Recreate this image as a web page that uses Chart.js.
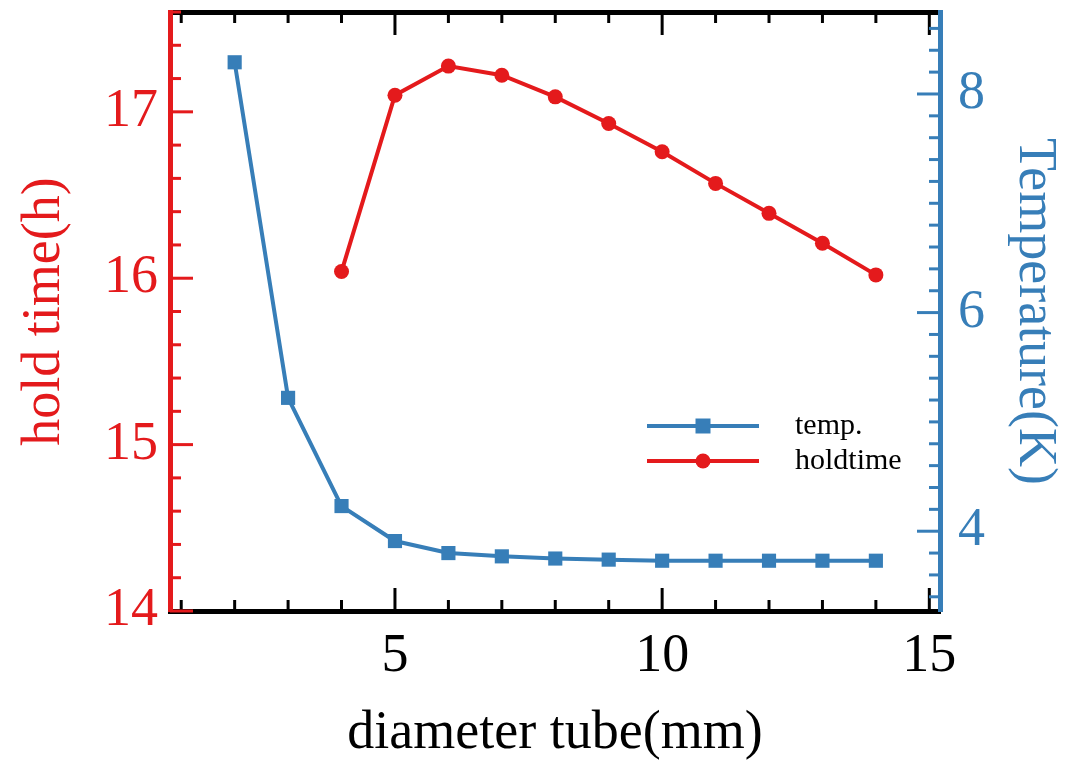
<!DOCTYPE html>
<html>
<head>
<meta charset="utf-8">
<script src="https://cdn.jsdelivr.net/npm/chart.js@4.4.0/dist/chart.umd.min.js"></script>
<style>
  html, body { margin: 0; padding: 0; background: #fff; }
</style>
</head>
<body>
<canvas id="graphic-holdtime" width="1066" height="761"></canvas>
<script>
// values
const diameterTemp = [2, 3, 4, 5, 6, 7, 8, 9, 10, 11, 12, 13, 14];
const tempValues = [8.29, 5.22, 4.23, 3.91, 3.80, 3.77, 3.75, 3.74, 3.73, 3.73, 3.73, 3.73, 3.73];
const diameterHold = [4, 5, 6, 7, 8, 9, 10, 11, 12, 13, 14];
const holdValues = [16.04, 17.10, 17.275, 17.22, 17.09, 16.93, 16.76, 16.57, 16.39, 16.21, 16.02];
const seriesNames = ['temp.', 'holdtime'];
const xTickLabels = [5, 10, 15];
const holdTickLabels = [14, 15, 16, 17];
const tempTickLabels = [4, 6, 8];

const red = '#e41a1c';
const blue = '#377eb8';
const serif = '"Liberation Serif", "Times New Roman", serif';

Chart.defaults.font.family = serif;

// minor tick step and colour per axis, ticks are drawn pointing inside the frame
const minorSteps = { x: 1, x2: 1, y: 0.2, y2: 0.2 };
const tickColors = { x: '#000', x2: '#000', y: red, y2: blue };

const innerTicks = {
  id: 'innerTicks',
  afterDraw(chart) {
    const ctx = chart.ctx;
    ctx.save();
    ctx.lineWidth = 3;
    Object.keys(minorSteps).forEach(function(id) {
      const scale = chart.scales[id];
      const step = minorSteps[id];
      const majors = scale.ticks.map(t => t.value);
      ctx.strokeStyle = tickColors[id];
      for (let k = Math.ceil(scale.min / step - 1e-6); k * step <= scale.max + 1e-6; k++) {
        const v = k * step;
        const len = majors.some(m => Math.abs(m - v) < 1e-6) ? 23 : 11;
        const p = scale.getPixelForValue(v);
        ctx.beginPath();
        if (id === 'x') { ctx.moveTo(p, scale.top); ctx.lineTo(p, scale.top - len); }
        if (id === 'x2') { ctx.moveTo(p, scale.bottom); ctx.lineTo(p, scale.bottom + len); }
        if (id === 'y') { ctx.moveTo(scale.right, p); ctx.lineTo(scale.right + len, p); }
        if (id === 'y2') { ctx.moveTo(scale.left, p); ctx.lineTo(scale.left - len, p); }
        ctx.stroke();
      }
    });
    ctx.restore();
  }
};

// legend with a line and the marker in its middle
const lineLegend = {
  id: 'lineLegend',
  afterDraw(chart) {
    const ctx = chart.ctx;
    const a = chart.chartArea;
    const x0 = a.left + 477, x1 = a.left + 589, tx = a.left + 625;
    ctx.save();
    chart.data.datasets.forEach(function(ds, i) {
      const y = a.top + 414 + i * 35;
      ctx.strokeStyle = ds.borderColor;
      ctx.fillStyle = ds.borderColor;
      ctx.lineWidth = 4;
      ctx.beginPath();
      ctx.moveTo(x0, y);
      ctx.lineTo(x1, y);
      ctx.stroke();
      const cx = (x0 + x1) / 2;
      ctx.beginPath();
      if (ds.pointStyle === 'rect') {
        ctx.rect(cx - 7.5, y - 7.5, 15, 15);
      } else {
        ctx.arc(cx, y, 7.5, 0, Math.PI * 2);
      }
      ctx.fill();
      ctx.fillStyle = '#000';
      ctx.font = '30px ' + serif;
      ctx.textBaseline = 'middle';
      ctx.textAlign = 'left';
      ctx.fillText(ds.label, tx, y);
    });
    ctx.restore();
  }
};

// fixed box sizes so the frame sits where the reference has it
function fixBox(size) {
  return function(s) {
    if (s.isHorizontal()) s.height = size; else s.width = size;
    s.paddingTop = 0;
    s.paddingBottom = 0;
    s.paddingLeft = 0;
    s.paddingRight = 0;
  };
}

const tickFont = { size: 54, family: serif };

new Chart(document.getElementById('graphic-holdtime'), {
  type: 'line',
  data: {
    datasets: [{
      label: seriesNames[0],
      data: diameterTemp.map((d, i) => ({ x: d, y: tempValues[i] })),
      yAxisID: 'y2',
      borderColor: blue,
      backgroundColor: blue,
      borderWidth: 4,
      pointStyle: 'rect',
      pointRadius: 10,
      pointBorderWidth: 0,
      tension: 0
    }, {
      label: seriesNames[1],
      data: diameterHold.map((d, i) => ({ x: d, y: holdValues[i] })),
      yAxisID: 'y',
      borderColor: red,
      backgroundColor: red,
      borderWidth: 4,
      pointStyle: 'circle',
      pointRadius: 7.5,
      pointBorderWidth: 0,
      tension: 0
    }]
  },
  options: {
    responsive: false,
    animation: false,
    layout: { padding: 0, autoPadding: false },
    plugins: {
      legend: { display: false },
      tooltip: { enabled: false }
    },
    scales: {
      x: {
        type: 'linear',
        position: 'bottom',
        min: 0.79,
        max: 15.2,
        afterBuildTicks: s => { s.ticks = xTickLabels.map(v => ({ value: v })); },
        afterFit: fixBox(150),
        grid: { display: false },
        border: { color: '#000', width: 5 },
        ticks: { color: '#000', font: tickFont, padding: 5, maxRotation: 0, autoSkip: false },
        title: {
          display: true,
          text: 'diameter tube(mm)',
          color: '#000',
          font: { size: 54, family: serif, lineHeight: 1 },
          padding: { top: 0, bottom: 0 }
        }
      },
      x2: {
        type: 'linear',
        position: 'top',
        min: 0.79,
        max: 15.2,
        afterBuildTicks: s => { s.ticks = xTickLabels.map(v => ({ value: v })); },
        afterFit: fixBox(12),
        grid: { display: false },
        border: { color: '#000', width: 5 },
        ticks: { display: false }
      },
      y: {
        type: 'linear',
        position: 'left',
        min: 14,
        max: 17.6,
        afterBuildTicks: s => { s.ticks = holdTickLabels.map(v => ({ value: v })); },
        afterFit: fixBox(170),
        grid: { display: false },
        border: { color: red, width: 5 },
        ticks: { color: red, font: tickFont, padding: 4, autoSkip: false },
        title: {
          display: true,
          text: 'hold time(h)',
          color: red,
          font: { size: 54, family: serif, lineHeight: 1.2 },
          padding: { top: 12, bottom: 0 }
        }
      },
      y2: {
        type: 'linear',
        position: 'right',
        min: 3.27,
        max: 8.75,
        afterBuildTicks: s => { s.ticks = tempTickLabels.map(v => ({ value: v })); },
        afterFit: fixBox(126),
        grid: { display: false },
        border: { color: blue, width: 5 },
        ticks: { color: blue, font: tickFont, padding: 10, autoSkip: false },
        title: {
          display: true,
          text: 'Temperature(K)',
          color: blue,
          font: { size: 54, family: serif, lineHeight: 1 },
          padding: { top: 5, bottom: 0 }
        }
      }
    }
  },
  plugins: [innerTicks, lineLegend]
});
</script>
</body>
</html>
